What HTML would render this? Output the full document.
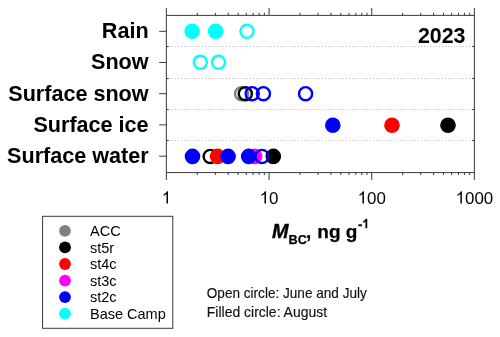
<!DOCTYPE html>
<html><head><meta charset="utf-8"><title>chart</title>
<style>
html,body{margin:0;padding:0;background:#fff;}
body{width:500px;height:337px;overflow:hidden;}
svg{display:block;will-change:transform;}
text{font-family:"Liberation Sans",sans-serif;}
</style></head><body>
<svg width="500" height="337" viewBox="0 0 500 337">
<rect width="500" height="337" fill="#fff"/>
<g stroke="#c0c0c0" stroke-width="1" stroke-dasharray="1 2" fill="none">
<line x1="169" y1="46.5" x2="473.4" y2="46.5"/>
<line x1="169" y1="78.5" x2="473.4" y2="78.5"/>
<line x1="169" y1="109.5" x2="473.4" y2="109.5"/>
<line x1="169" y1="140.5" x2="473.4" y2="140.5"/>
</g>
<g stroke="#3a3a3a" stroke-width="1" fill="none" stroke-linecap="butt">
<line x1="166.4" y1="8.0" x2="166.4" y2="180.0" stroke="#505050" stroke-width="1.15"/>
<line x1="474.4" y1="8.0" x2="474.4" y2="180.0" stroke="#505050" stroke-width="1.15"/>
<line x1="166.4" y1="15.4" x2="474.4" y2="15.4"/>
<line x1="166.4" y1="172.6" x2="474.4" y2="172.6"/>
<line x1="197.31" y1="15.4" x2="197.31" y2="12.8"/>
<line x1="197.31" y1="172.6" x2="197.31" y2="175.0"/>
<line x1="215.38" y1="15.4" x2="215.38" y2="12.8"/>
<line x1="215.38" y1="172.6" x2="215.38" y2="175.0"/>
<line x1="228.21" y1="15.4" x2="228.21" y2="12.8"/>
<line x1="228.21" y1="172.6" x2="228.21" y2="175.0"/>
<line x1="238.16" y1="15.4" x2="238.16" y2="12.8"/>
<line x1="238.16" y1="172.6" x2="238.16" y2="175.0"/>
<line x1="246.29" y1="15.4" x2="246.29" y2="12.8"/>
<line x1="246.29" y1="172.6" x2="246.29" y2="175.0"/>
<line x1="253.16" y1="15.4" x2="253.16" y2="12.8"/>
<line x1="253.16" y1="172.6" x2="253.16" y2="175.0"/>
<line x1="259.12" y1="15.4" x2="259.12" y2="12.8"/>
<line x1="259.12" y1="172.6" x2="259.12" y2="175.0"/>
<line x1="264.37" y1="15.4" x2="264.37" y2="12.8"/>
<line x1="264.37" y1="172.6" x2="264.37" y2="175.0"/>
<line x1="299.97" y1="15.4" x2="299.97" y2="12.8"/>
<line x1="299.97" y1="172.6" x2="299.97" y2="175.0"/>
<line x1="318.05" y1="15.4" x2="318.05" y2="12.8"/>
<line x1="318.05" y1="172.6" x2="318.05" y2="175.0"/>
<line x1="330.88" y1="15.4" x2="330.88" y2="12.8"/>
<line x1="330.88" y1="172.6" x2="330.88" y2="175.0"/>
<line x1="340.83" y1="15.4" x2="340.83" y2="12.8"/>
<line x1="340.83" y1="172.6" x2="340.83" y2="175.0"/>
<line x1="348.96" y1="15.4" x2="348.96" y2="12.8"/>
<line x1="348.96" y1="172.6" x2="348.96" y2="175.0"/>
<line x1="355.83" y1="15.4" x2="355.83" y2="12.8"/>
<line x1="355.83" y1="172.6" x2="355.83" y2="175.0"/>
<line x1="361.78" y1="15.4" x2="361.78" y2="12.8"/>
<line x1="361.78" y1="172.6" x2="361.78" y2="175.0"/>
<line x1="367.04" y1="15.4" x2="367.04" y2="12.8"/>
<line x1="367.04" y1="172.6" x2="367.04" y2="175.0"/>
<line x1="402.64" y1="15.4" x2="402.64" y2="12.8"/>
<line x1="402.64" y1="172.6" x2="402.64" y2="175.0"/>
<line x1="420.72" y1="15.4" x2="420.72" y2="12.8"/>
<line x1="420.72" y1="172.6" x2="420.72" y2="175.0"/>
<line x1="433.54" y1="15.4" x2="433.54" y2="12.8"/>
<line x1="433.54" y1="172.6" x2="433.54" y2="175.0"/>
<line x1="443.49" y1="15.4" x2="443.49" y2="12.8"/>
<line x1="443.49" y1="172.6" x2="443.49" y2="175.0"/>
<line x1="451.62" y1="15.4" x2="451.62" y2="12.8"/>
<line x1="451.62" y1="172.6" x2="451.62" y2="175.0"/>
<line x1="458.5" y1="15.4" x2="458.5" y2="12.8"/>
<line x1="458.5" y1="172.6" x2="458.5" y2="175.0"/>
<line x1="464.45" y1="15.4" x2="464.45" y2="12.8"/>
<line x1="464.45" y1="172.6" x2="464.45" y2="175.0"/>
<line x1="469.7" y1="15.4" x2="469.7" y2="12.8"/>
<line x1="469.7" y1="172.6" x2="469.7" y2="175.0"/>
<line x1="269.07" y1="15.4" x2="269.07" y2="8.0"/>
<line x1="269.07" y1="172.6" x2="269.07" y2="180.0"/>
<line x1="371.73" y1="15.4" x2="371.73" y2="8.0"/>
<line x1="371.73" y1="172.6" x2="371.73" y2="180.0"/>
<line x1="166.4" y1="31.3" x2="159.20000000000002" y2="31.3"/>
<line x1="166.4" y1="62.5" x2="159.20000000000002" y2="62.5"/>
<line x1="166.4" y1="93.7" x2="159.20000000000002" y2="93.7"/>
<line x1="166.4" y1="124.9" x2="159.20000000000002" y2="124.9"/>
<line x1="166.4" y1="156.2" x2="159.20000000000002" y2="156.2"/>
<line x1="166.4" y1="46.5" x2="168.6" y2="46.5"/>
<line x1="474.4" y1="46.5" x2="472.2" y2="46.5"/>
<line x1="166.4" y1="78.5" x2="168.6" y2="78.5"/>
<line x1="474.4" y1="78.5" x2="472.2" y2="78.5"/>
<line x1="166.4" y1="109.5" x2="168.6" y2="109.5"/>
<line x1="474.4" y1="109.5" x2="472.2" y2="109.5"/>
<line x1="166.4" y1="140.5" x2="168.6" y2="140.5"/>
<line x1="474.4" y1="140.5" x2="472.2" y2="140.5"/>
</g>
<circle cx="192.1" cy="31.3" r="7.8" fill="#00ffff"/>
<circle cx="215.7" cy="31.3" r="7.8" fill="#00ffff"/>
<circle cx="247.0" cy="31.3" r="6.55" fill="none" stroke="#00ffff" stroke-width="2.4"/>
<circle cx="200.35" cy="62.3" r="6.55" fill="none" stroke="#00ffff" stroke-width="2.4"/>
<circle cx="218.5" cy="62.3" r="6.55" fill="none" stroke="#00ffff" stroke-width="2.4"/>
<circle cx="241.6" cy="93.7" r="6.55" fill="none" stroke="#808080" stroke-width="2.4"/>
<circle cx="245.3" cy="93.7" r="6.55" fill="none" stroke="#000000" stroke-width="2.4"/>
<circle cx="252.2" cy="93.7" r="6.55" fill="none" stroke="#0000ff" stroke-width="2.4"/>
<circle cx="263.4" cy="93.7" r="6.55" fill="none" stroke="#0000ff" stroke-width="2.4"/>
<circle cx="305.6" cy="93.7" r="6.55" fill="none" stroke="#0000ff" stroke-width="2.4"/>
<circle cx="332.8" cy="125.2" r="7.8" fill="#0000ff"/>
<circle cx="392" cy="125.2" r="7.8" fill="#ff0000"/>
<circle cx="448" cy="125.2" r="7.8" fill="#000000"/>
<circle cx="192.5" cy="156.4" r="7.8" fill="#0000ff"/>
<circle cx="210.2" cy="156.4" r="6.55" fill="none" stroke="#000000" stroke-width="2.4"/>
<circle cx="217.6" cy="156.4" r="7.8" fill="#ff0000"/>
<circle cx="228.1" cy="156.4" r="7.8" fill="#0000ff"/>
<circle cx="254.6" cy="156.4" r="7.8" fill="#ff00ff"/>
<circle cx="248.7" cy="156.4" r="7.8" fill="#0000ff"/>
<circle cx="273.3" cy="156.4" r="7.8" fill="#000000"/>
<circle cx="262.0" cy="156.4" r="6.55" fill="none" stroke="#0000ff" stroke-width="2.4"/>
<g font-weight="bold" font-size="21.6" text-anchor="end" fill="#000">
<text transform="translate(148.6,38.20) scale(1,1.04)">Rain</text>
<text transform="translate(148.6,69.40) scale(1,1.04)">Snow</text>
<text transform="translate(148.6,100.60) scale(1,1.04)">Surface snow</text>
<text transform="translate(148.6,131.80) scale(1,1.04)">Surface ice</text>
<text transform="translate(148.6,163.10) scale(1,1.04)">Surface water</text>
</g>
<text x="417.9" y="43" font-weight="bold" font-size="22.4" textLength="47.6" lengthAdjust="spacingAndGlyphs">2023</text>
<path d="M763 0L583 0L583 1147Q518 1085 412.5 1023Q307 961 223 930L223 1104Q374 1175 487 1276Q600 1377 647 1472L763 1472Z" transform="translate(161.70,203.5) scale(0.00825,-0.00825)" fill="#000" stroke="none"/>
<path d="M763 0L583 0L583 1147Q518 1085 412.5 1023Q307 961 223 930L223 1104Q374 1175 487 1276Q600 1377 647 1472L763 1472Z" transform="translate(259.67,203.5) scale(0.00825,-0.00825)" fill="#000" stroke="none"/>
<text x="269.07" y="203.5" font-size="16.9">0</text>
<path d="M763 0L583 0L583 1147Q518 1085 412.5 1023Q307 961 223 930L223 1104Q374 1175 487 1276Q600 1377 647 1472L763 1472Z" transform="translate(357.63,203.5) scale(0.00825,-0.00825)" fill="#000" stroke="none"/>
<text x="367.03" y="203.5" font-size="16.9">00</text>
<path d="M763 0L583 0L583 1147Q518 1085 412.5 1023Q307 961 223 930L223 1104Q374 1175 487 1276Q600 1377 647 1472L763 1472Z" transform="translate(455.60,203.5) scale(0.00825,-0.00825)" fill="#000" stroke="none"/>
<text x="465.00" y="203.5" font-size="16.9">000</text>
<g font-weight="bold" fill="#000" stroke="#000" stroke-width="0.25">
<text x="272.0" y="237.8" font-size="19.8" font-style="italic" stroke-width="0.4">M</text>
<text x="288.6" y="244.2" font-size="13.6" textLength="18.3" lengthAdjust="spacingAndGlyphs">BC</text>
<text x="305.9" y="238" font-size="19">,</text><text x="317.36" y="238" font-size="19">ng g</text>
<text x="357.9" y="229.1" font-size="13.3">-</text>
</g>
<path d="M806 0L525 0L525 1059Q371 915 162 846L162 1101Q272 1137 401 1237.5Q530 1338 578 1472L806 1472Z" transform="translate(362.03,228.3) scale(0.00649,-0.00649)" fill="#000" stroke="none"/>
<rect x="42.6" y="216.3" width="130.2" height="112" fill="#fff" stroke="#3a3a3a" stroke-width="1"/>
<circle cx="65" cy="230.90" r="5.9" fill="#808080"/>
<text x="90" y="236.10" font-size="14.5">ACC</text>
<circle cx="65" cy="247.45" r="5.9" fill="#000000"/>
<text x="90" y="252.65" font-size="14.5">st5r</text>
<circle cx="65" cy="264.00" r="5.9" fill="#ff0000"/>
<text x="90" y="269.20" font-size="14.5">st4c</text>
<circle cx="65" cy="280.55" r="5.9" fill="#ff00ff"/>
<text x="90" y="285.75" font-size="14.5">st3c</text>
<circle cx="65" cy="297.10" r="5.9" fill="#0000ff"/>
<text x="90" y="302.30" font-size="14.5">st2c</text>
<circle cx="65" cy="313.65" r="5.9" fill="#00ffff"/>
<text x="90" y="318.85" font-size="14.5">Base Camp</text>
<g font-size="14.3" fill="#111" stroke="#111" stroke-width="0.15">
<text x="206.8" y="298" textLength="160" lengthAdjust="spacingAndGlyphs">Open circle: June and July</text>
<text x="206.8" y="316.8" textLength="120.3" lengthAdjust="spacingAndGlyphs">Filled circle: August</text>
</g>
</svg></body></html>
